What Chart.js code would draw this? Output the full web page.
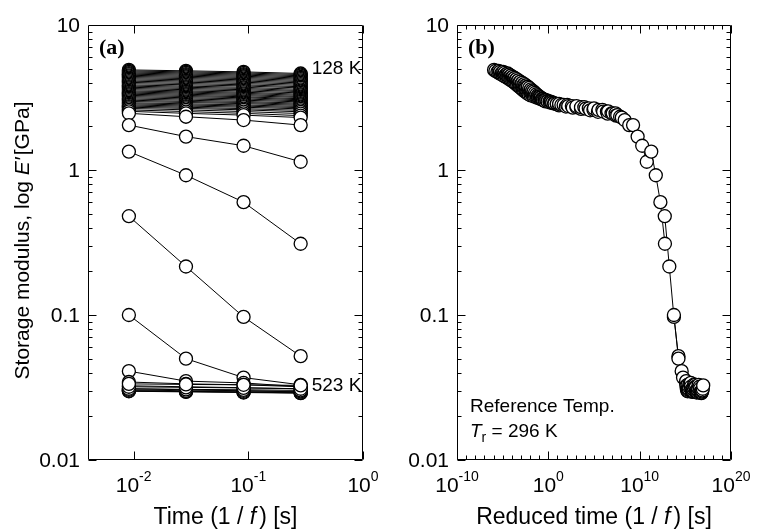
<!DOCTYPE html>
<html lang="en">
<head>
<meta charset="UTF-8">
<title>Storage modulus, log E'</title>
<script src="https://cdn.jsdelivr.net/npm/chart.js@4.4.1/dist/chart.umd.min.js"></script>
<style>
  body { margin: 0; background: #fff; }
  .wrap { position: relative; width: 760px; height: 531px; }
  canvas { position: absolute; top: 0; }
  #leftChart { left: 0; }
  #rightChart { left: 380px; }
</style>
</head>
<body>
<div class="wrap">
  <canvas id="leftChart" width="380" height="531"></canvas>
  <canvas id="rightChart" width="380" height="531"></canvas>
</div>

<script>
// time = 1/f for 110, 35, 11 and 3.5 Hz
const times = [0.00909, 0.0286, 0.0909, 0.286];

// E' [GPa] per temperature (128 K ... 523 K), one array per frequency
const eAt110Hz = [4.90, 4.82, 4.74, 4.66, 4.58, 4.50, 4.42, 4.34, 4.26, 4.18, 4.10, 4.02, 3.94, 3.86,
  3.79, 3.72, 3.65, 3.58, 3.51, 3.45, 3.39, 3.33, 3.27, 3.21, 3.15, 3.09, 3.03, 2.97,
  2.91, 2.86, 2.81, 2.76, 2.71, 2.66, 2.60, 2.54, 2.46,
  2.04, 1.34, 0.48, 0.100, 0.041,
  0.0345, 0.0325, 0.031, 0.030, 0.0298, 0.030, 0.0305, 0.031, 0.032, 0.0335];
const eAt35Hz = [4.83, 4.75, 4.67, 4.59, 4.51, 4.43, 4.35, 4.27, 4.19, 4.11, 4.03, 3.95, 3.87, 3.79,
  3.72, 3.65, 3.58, 3.51, 3.45, 3.39, 3.33, 3.27, 3.21, 3.15, 3.09, 3.03, 2.97, 2.92,
  2.86, 2.81, 2.76, 2.71, 2.66, 2.60, 2.53, 2.46, 2.33,
  1.70, 0.92, 0.216, 0.050, 0.035,
  0.0335, 0.032, 0.0305, 0.0297, 0.0295, 0.0297, 0.030, 0.0307, 0.0317, 0.0332];
const eAt11Hz = [4.75, 4.67, 4.59, 4.51, 4.43, 4.35, 4.27, 4.19, 4.11, 4.03, 3.95, 3.87, 3.80, 3.72,
  3.65, 3.58, 3.51, 3.44, 3.38, 3.32, 3.26, 3.20, 3.15, 3.09, 3.03, 2.97, 2.92, 2.87,
  2.81, 2.76, 2.71, 2.65, 2.60, 2.53, 2.46, 2.39, 2.21,
  1.47, 0.60, 0.097, 0.037, 0.034,
  0.033, 0.0315, 0.030, 0.0294, 0.0292, 0.0295, 0.030, 0.0305, 0.0314, 0.033];
const eAt3_5Hz = [4.63, 4.55, 4.47, 4.39, 4.31, 4.23, 4.15, 4.07, 3.99, 3.91, 3.83, 3.75, 3.68, 3.60,
  3.53, 3.47, 3.40, 3.33, 3.27, 3.21, 3.16, 3.10, 3.05, 3.00, 2.95, 2.89, 2.84, 2.79,
  2.74, 2.69, 2.64, 2.58, 2.52, 2.45, 2.37, 2.30, 2.04,
  1.14, 0.31, 0.052, 0.033, 0.032,
  0.032, 0.031, 0.0295, 0.029, 0.0289, 0.0292, 0.0297, 0.0302, 0.031, 0.0327];

// log10 of the time-temperature shift factor for each temperature (Tr = 296 K)
const logShift = [-3.9, -3.75, -3.54, -3.34, -3.14, -2.94, -2.74, -2.52, -2.31, -2.10, -1.89, -1.70, -1.54, -1.37,
  -1.22, -1.07, -0.92, -0.76, -0.61, -0.44, -0.28, -0.11, 0.11, 0.46, 0.82, 1.17, 1.47, 1.72,
  2.47, 3.22, 4.12, 5.12, 5.98, 7.04, 7.96, 8.59, 9.4,
  11.32, 13.31, 14.79, 15.79, 16.64,
  17.1, 17.15, 17.2, 17.25, 17.3, 17.33, 17.37, 17.41, 17.45, 17.5];

const yTicks = [0.01, 0.1, 1, 10];
const yTickLabels = ['0.01', '0.1', '1', '10'];
const leftXExps = [-2, -1, 0];
const rightXExps = [-10, 0, 10, 20];

const SANS = '"Liberation Sans", Arial, Helvetica, sans-serif';
const SERIF = '"Liberation Serif", "Times New Roman", serif';
const columns = [eAt110Hz, eAt35Hz, eAt11Hz, eAt3_5Hz];

// draw a run of text pieces with different fonts / offsets
function drawRich(ctx, parts, x, y, align) {
    let total = 0;
    parts.forEach(p => { ctx.font = p.font; p.w = ctx.measureText(p.t).width; total += p.w + (p.gap || 0); });
    let cx = align === 'center' ? x - total / 2 : align === 'right' ? x - total : x;
    parts.forEach(p => {
        ctx.font = p.font;
        ctx.fillText(p.t, cx, y + (p.dy || 0));
        cx += p.w + (p.gap || 0);
    });
}

const axesFrame = {
    id: 'axesFrame',
    afterDraw(chart, args, o) {
        const ctx = chart.ctx, a = chart.chartArea;
        const xs = chart.scales.x, ys = chart.scales.y;
        const L = Math.round(a.left) + 0.5, R = Math.round(a.right) - 0.5;
        const T = Math.round(a.top) + 0.5, B = Math.round(a.bottom) - 0.5;
        ctx.save();
        ctx.strokeStyle = '#000';
        ctx.lineWidth = 1;
        ctx.beginPath();
        ctx.rect(L, T, R - L, B - T);
        // y ticks, inward on both sides
        for (let e = -2; e < 1; e++) {
            for (let m = 1; m <= 9; m++) {
                const py = Math.round(ys.getPixelForValue(m * Math.pow(10, e))) + 0.5;
                const len = m === 1 ? 8 : 4;
                ctx.moveTo(L, py); ctx.lineTo(L + len, py);
                ctx.moveTo(R, py); ctx.lineTo(R - len, py);
            }
        }
        // x ticks, inward top and bottom
        const xTick = (e, len) => {
            const px = Math.round(xs.getPixelForValue(Math.pow(10, e))) + 0.5;
            ctx.moveTo(px, B); ctx.lineTo(px, B - len);
            ctx.moveTo(px, T); ctx.lineTo(px, T + len);
        };
        o.xMinor.forEach(e => xTick(e, 4));
        o.xMajor.forEach(e => xTick(e, 8));
        ctx.stroke();

        ctx.fillStyle = '#000';
        // y tick labels
        ctx.font = '21px ' + SANS;
        ctx.textAlign = 'right';
        ctx.textBaseline = 'middle';
        yTicks.forEach((v, i) => ctx.fillText(yTickLabels[i], a.left - 8, ys.getPixelForValue(v) + 1));

        // x tick labels 10^n
        ctx.textAlign = 'left';
        ctx.textBaseline = 'alphabetic';
        o.xMajor.forEach(e => {
            drawRich(ctx, [
                { t: '10', font: '21px ' + SANS },
                { t: String(e), font: '14px ' + SANS, dy: -11 }
            ], xs.getPixelForValue(Math.pow(10, e)), 492, 'center');
        });

        // x axis title
        const cx = (a.left + a.right) / 2;
        drawRich(ctx, [
            { t: o.xTitle + ' (1 / ', font: '23px ' + SANS },
            { t: 'f', font: 'italic 23px ' + SANS, gap: 3 },
            { t: ') [s]', font: '23px ' + SANS }
        ], cx, 524, 'center');

        // panel letter
        ctx.font = 'bold 22px ' + SERIF;
        ctx.fillText(o.panel, a.left + 11, a.top + 29);

        if (o.yTitle) {
            ctx.save();
            ctx.translate(29, (a.top + a.bottom) / 2 - 2);
            ctx.rotate(-Math.PI / 2);
            drawRich(ctx, [
                { t: 'Storage modulus, log ', font: '21px ' + SANS },
                { t: 'E\u2032', font: 'italic 21px ' + SANS, gap: 2 },
                { t: '[GPa]', font: '21px ' + SANS }
            ], 0, 0, 'center');
            ctx.restore();
        }
        if (o.tempLabels) {
            ctx.font = '19px ' + SANS;
            ctx.textBaseline = 'middle';
            const lx = xs.getPixelForValue(times[3]) + 11;
            ctx.fillText('128 K', lx, ys.getPixelForValue(eAt3_5Hz[0]) - 5);
            ctx.fillText('523 K', lx, ys.getPixelForValue(eAt3_5Hz[eAt3_5Hz.length - 1]));
        }
        if (o.refNote) {
            ctx.textBaseline = 'alphabetic';
            const nx = a.left + 13;
            ctx.font = '19px ' + SANS;
            ctx.fillText('Reference Temp.', nx, 412);
            drawRich(ctx, [
                { t: 'T', font: 'italic 19px ' + SANS },
                { t: 'r', font: '14px ' + SANS, dy: 5 },
                { t: ' = 296 K', font: '19px ' + SANS }
            ], nx, 437, 'left');
        }
        ctx.restore();
    }
};

const markerStyle = {
    pointRadius: 6.5,
    pointBackgroundColor: '#fff',
    pointBorderColor: '#000',
    pointBorderWidth: 1.3
};

// (a): one line + markers per temperature, hotter curves on top
function rawDatasets() {
    return eAt110Hz.map((_, i) => Object.assign({
        data: times.map((t, j) => ({ x: t, y: columns[j][i] })),
        showLine: true,
        borderColor: '#000',
        borderWidth: 1,
        order: eAt110Hz.length - i + 1
    }, markerStyle));
}

// (b): curves shifted by aT; lines underneath, all markers stacked along reduced time
function shiftedDatasets() {
    const sets = [];
    const pts = [];
    eAt110Hz.forEach((_, i) => {
        const data = times.map((t, j) => ({ x: t * Math.pow(10, logShift[i]), y: columns[j][i] }));
        pts.push(...data);
        sets.push({ data: data, showLine: true, borderColor: '#000', borderWidth: 1, pointRadius: 0, order: 2 });
    });
    pts.sort((p, q) => p.x - q.x);
    sets.push(Object.assign({ data: pts, showLine: false, order: 0 }, markerStyle));
    return sets;
}

function makeChart(id, datasets, xMin, xMax, padding, frameOpts) {
    return new Chart(document.getElementById(id), {
        type: 'scatter',
        data: { datasets: datasets },
        options: {
            responsive: false,
            animation: false,
            devicePixelRatio: 1,
            layout: { padding: padding },
            scales: {
                x: { type: 'logarithmic', min: xMin, max: xMax, display: false },
                y: { type: 'logarithmic', min: 0.01, max: 10, display: false }
            },
            plugins: {
                legend: { display: false },
                tooltip: { enabled: false },
                axesFrame: frameOpts
            }
        },
        plugins: [axesFrame]
    });
}

makeChart('leftChart', rawDatasets(), 0.004, 1,
    { left: 88, right: 17, top: 25, bottom: 71 },
    { xMajor: leftXExps, xMinor: [], xTitle: 'Time', panel: '(a)', yTitle: true, tempLabels: true });

const decades = [];
for (let e = -10; e <= 20; e++) decades.push(e);
makeChart('rightChart', shiftedDatasets(), 1e-10, 1e20,
    { left: 77, right: 29, top: 25, bottom: 71 },
    { xMajor: rightXExps, xMinor: decades, xTitle: 'Reduced time', panel: '(b)', refNote: true });
</script>
</body>
</html>
